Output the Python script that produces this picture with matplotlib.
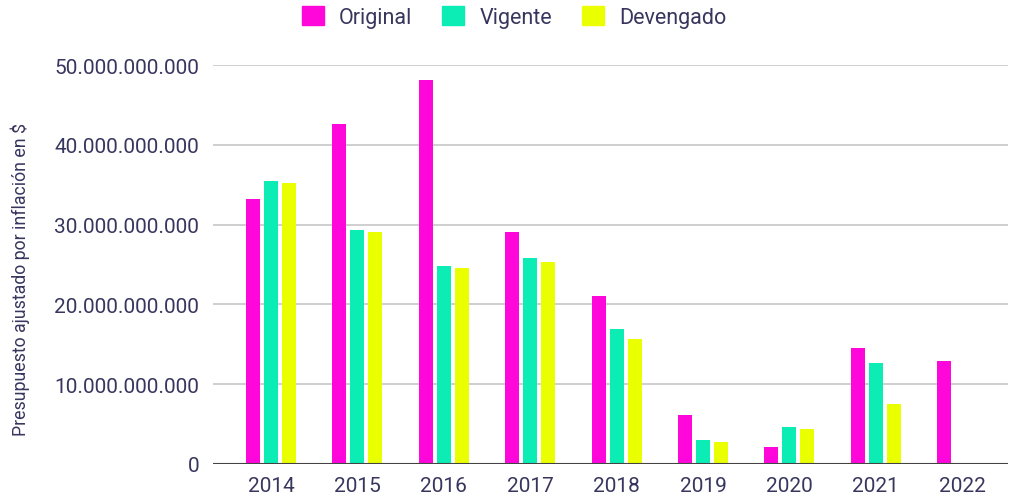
import matplotlib
matplotlib.use("Agg")
import matplotlib.pyplot as plt
import numpy as np
from matplotlib.patches import Patch
from matplotlib.ticker import FuncFormatter

years = ["2014", "2015", "2016", "2017", "2018", "2019", "2020", "2021", "2022"]
original = [33.2e9, 42.6e9, 48.1e9, 29.1e9, 21.0e9, 6.1e9, 2.1e9, 14.5e9, 12.9e9]
vigente = [35.5e9, 29.3e9, 24.8e9, 25.8e9, 16.9e9, 3.0e9, 4.6e9, 12.7e9, 0]
devengado = [35.2e9, 29.1e9, 24.6e9, 25.3e9, 15.7e9, 2.8e9, 4.4e9, 7.5e9, 0]
series = ["Original", "Vigente", "Devengado"]

colors = ["#ff07db", "#0bedb5", "#eaff00"]
text_color = "#38365e"
plt.rcParams["font.family"] = ["Roboto", "DejaVu Sans"]

fig = plt.figure(figsize=(10.1, 5.02), dpi=100)
ax = fig.add_axes([213 / 1010, 37 / 502, 795 / 1010, 399 / 502])

x = np.arange(len(years))
w = 0.162
step = 0.208
for i, vals in enumerate([original, vigente, devengado]):
    ax.bar(x + (i - 1) * step, vals, width=w, color=colors[i], zorder=3)

ax.set_xlim(-0.671, 8.53)
ax.set_ylim(0, 50e9)
ax.set_yticks(np.arange(0, 50e9 + 1, 10e9))
ax.yaxis.set_major_formatter(FuncFormatter(lambda v, p: f"{int(v):,}".replace(",", ".")))
ax.set_xticks(x)
ax.set_xticklabels(years)
ax.grid(axis="y", color="#cccccc", linewidth=1.3, zorder=0)
ax.axhline(0, color="#444444", linewidth=1.5, zorder=4)
for s in ax.spines.values():
    s.set_visible(False)
ax.tick_params(axis="both", length=0, labelsize=15, colors=text_color)
ax.tick_params(axis="y", pad=10)
ax.tick_params(axis="x", pad=9)

fig.text(0.02, (502 - 280) / 502, "Presupuesto ajustado por inflación en $", rotation=90,
         ha="center", va="center", fontsize=12.8, color=text_color)

handles = [Patch(facecolor=c, edgecolor=c, label=l) for c, l in zip(colors, series)]
fig.legend(handles=handles, loc="center", bbox_to_anchor=(514 / 1010, 1 - 18 / 502), ncol=3,
           frameon=False, fontsize=15.5, labelcolor=text_color, handlelength=1.02,
           handleheight=1.02, handletextpad=0.7, columnspacing=1.4)

fig.savefig("out.png", dpi=100)
